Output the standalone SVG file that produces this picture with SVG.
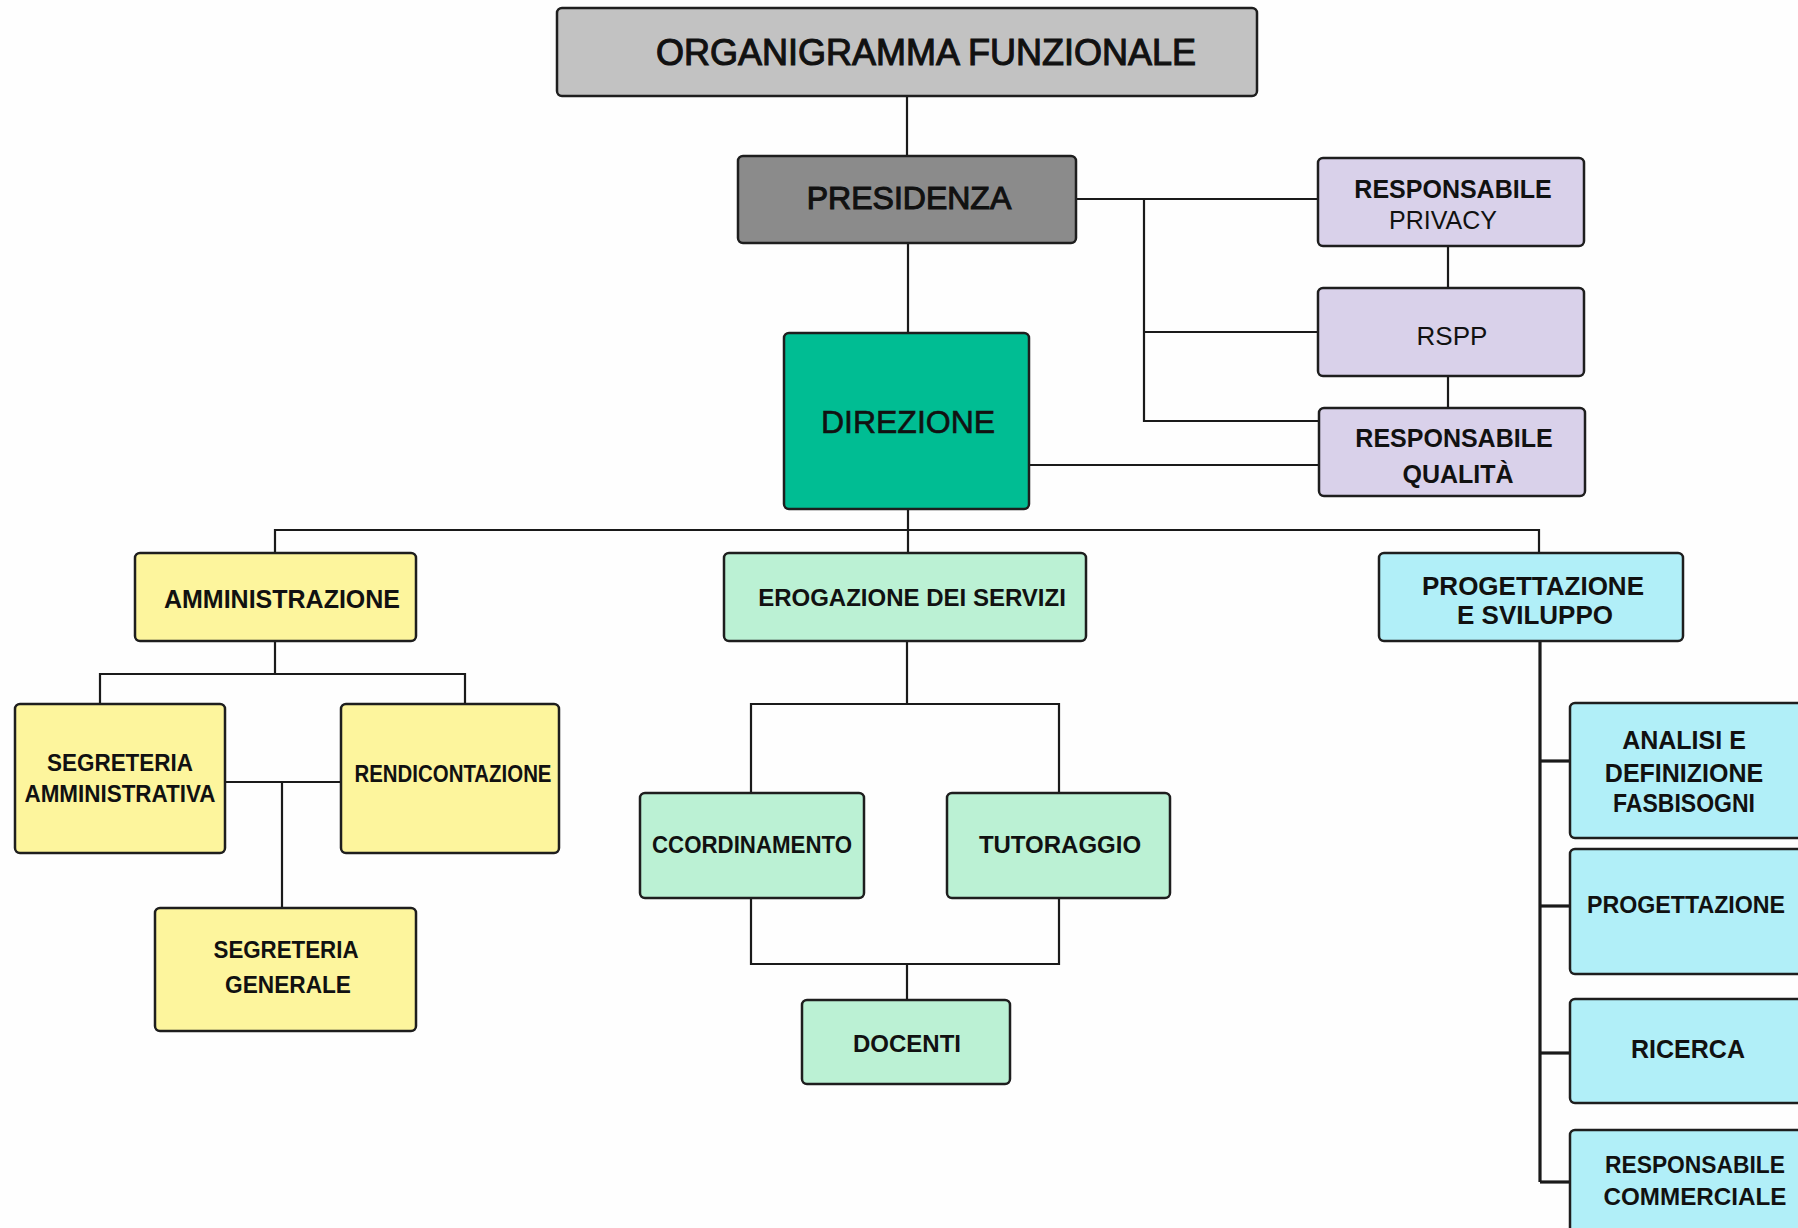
<svg xmlns="http://www.w3.org/2000/svg" width="1798" height="1228" viewBox="0 0 1798 1228">
<style>
.box{stroke:#1e1e1e;stroke-width:2.5}
.gray1{fill:#c2c2c2}
.gray2{fill:#8b8b8b}
.lav{fill:#d9d1ea}
.dir{fill:#00bd93}
.yel{fill:#fdf59d}
.mint{fill:#bbf1d4}
.cyan{fill:#b1eff8}
.t{font-family:"Liberation Sans",Arial,sans-serif;fill:#111;text-anchor:middle}
.b{font-weight:bold}
.ln{fill:none;stroke:#1a1a1a;stroke-width:2.2}
.lnb{fill:none;stroke:#1a1a1a;stroke-width:3.2}
</style>
<rect width="1798" height="1228" fill="#fefefe"/>
<g id="connectors">
<path class="ln" d="M907 96V156"/>
<path class="ln" d="M908 243V333"/>
<path class="ln" d="M1076 199H1318"/>
<path class="ln" d="M1144 199V421H1319"/>
<path class="ln" d="M1144 332H1318"/>
<path class="ln" d="M1448 246V288"/>
<path class="ln" d="M1448 376V408"/>
<path class="ln" d="M1029 465H1319"/>
<path class="ln" d="M908 509V553"/>
<path class="ln" d="M275 553V530H1539V553"/>
<path class="ln" d="M275 641V674"/>
<path class="ln" d="M100 704V674H465V704"/>
<path class="ln" d="M225 782H341"/>
<path class="ln" d="M282 782V908"/>
<path class="ln" d="M907 641V704"/>
<path class="ln" d="M751 793V704H1059V793"/>
<path class="ln" d="M751 898V964H1059V898"/>
<path class="ln" d="M907 964V1000"/>
<path class="lnb" d="M1540 641V1182"/>
<path class="lnb" d="M1540 761H1570"/>
<path class="lnb" d="M1540 906H1570"/>
<path class="lnb" d="M1540 1053H1570"/>
<path class="lnb" d="M1540 1182H1570"/>
</g>
<g id="titolo">
<rect class="box gray1" x="557" y="8" width="700" height="88" rx="5"/>
<text class="t" x="926" y="65" font-size="36" stroke="#111" stroke-width="1.1">ORGANIGRAMMA FUNZIONALE</text>
</g>
<g id="presidenza">
<rect class="box gray2" x="738" y="156" width="338" height="87" rx="5"/>
<text class="t" x="909" y="209" font-size="32" stroke="#111" stroke-width="1.1">PRESIDENZA</text>
</g>
<g id="resp-privacy">
<rect class="box lav" x="1318" y="158" width="266" height="88" rx="5"/>
<text class="t b" x="1453" y="198" font-size="25">RESPONSABILE</text>
<text class="t" x="1443" y="229" font-size="25">PRIVACY</text>
</g>
<g id="rspp">
<rect class="box lav" x="1318" y="288" width="266" height="88" rx="5"/>
<text class="t" x="1452" y="345" font-size="26">RSPP</text>
</g>
<g id="resp-qualita">
<rect class="box lav" x="1319" y="408" width="266" height="88" rx="5"/>
<text class="t b" x="1454" y="447" font-size="25">RESPONSABILE</text>
<text class="t b" x="1458" y="483" font-size="25">QUALITÀ</text>
</g>
<g id="direzione">
<rect class="box dir" x="784" y="333" width="245" height="176" rx="5"/>
<text class="t" x="908" y="433" font-size="32" stroke="#111" stroke-width="0.6">DIREZIONE</text>
</g>
<g id="amministrazione">
<rect class="box yel" x="135" y="553" width="281" height="88" rx="5"/>
<text class="t b" x="282" y="608" font-size="25">AMMINISTRAZIONE</text>
</g>
<g id="segreteria-amministrativa">
<rect class="box yel" x="15" y="704" width="210" height="149" rx="5"/>
<text class="t b" x="120" y="771" font-size="24" textLength="146" lengthAdjust="spacingAndGlyphs">SEGRETERIA</text>
<text class="t b" x="120" y="802" font-size="24" textLength="191" lengthAdjust="spacingAndGlyphs">AMMINISTRATIVA</text>
</g>
<g id="rendicontazione">
<rect class="box yel" x="341" y="704" width="218" height="149" rx="5"/>
<text class="t b" x="453" y="782" font-size="24" textLength="197" lengthAdjust="spacingAndGlyphs">RENDICONTAZIONE</text>
</g>
<g id="segreteria-generale">
<rect class="box yel" x="155" y="908" width="261" height="123" rx="5"/>
<text class="t b" x="286" y="958" font-size="24" textLength="145" lengthAdjust="spacingAndGlyphs">SEGRETERIA</text>
<text class="t b" x="288" y="993" font-size="24" textLength="126" lengthAdjust="spacingAndGlyphs">GENERALE</text>
</g>
<g id="erogazione">
<rect class="box mint" x="724" y="553" width="362" height="88" rx="5"/>
<text class="t b" x="912" y="606" font-size="24">EROGAZIONE DEI SERVIZI</text>
</g>
<g id="coordinamento">
<rect class="box mint" x="640" y="793" width="224" height="105" rx="5"/>
<text class="t b" x="752" y="853" font-size="24" textLength="200" lengthAdjust="spacingAndGlyphs">CCORDINAMENTO</text>
</g>
<g id="tutoraggio">
<rect class="box mint" x="947" y="793" width="223" height="105" rx="5"/>
<text class="t b" x="1060" y="853" font-size="24">TUTORAGGIO</text>
</g>
<g id="docenti">
<rect class="box mint" x="802" y="1000" width="208" height="84" rx="5"/>
<text class="t b" x="907" y="1052" font-size="24">DOCENTI</text>
</g>
<g id="progettazione-sviluppo">
<rect class="box cyan" x="1379" y="553" width="304" height="88" rx="5"/>
<text class="t b" x="1533" y="595" font-size="26">PROGETTAZIONE</text>
<text class="t b" x="1535" y="624" font-size="26">E SVILUPPO</text>
</g>
<g id="analisi">
<rect class="box cyan" x="1570" y="703" width="250" height="135" rx="5"/>
<text class="t b" x="1684" y="749" font-size="25">ANALISI E</text>
<text class="t b" x="1684" y="782" font-size="25">DEFINIZIONE</text>
<text class="t b" x="1684" y="812" font-size="25" textLength="142" lengthAdjust="spacingAndGlyphs">FASBISOGNI</text>
</g>
<g id="progettazione">
<rect class="box cyan" x="1570" y="849" width="250" height="125" rx="5"/>
<text class="t b" x="1686" y="913" font-size="24" textLength="198" lengthAdjust="spacingAndGlyphs">PROGETTAZIONE</text>
</g>
<g id="ricerca">
<rect class="box cyan" x="1570" y="999" width="250" height="104" rx="5"/>
<text class="t b" x="1688" y="1058" font-size="25">RICERCA</text>
</g>
<g id="responsabile-commerciale">
<rect class="box cyan" x="1570" y="1130" width="250" height="120" rx="5"/>
<text class="t b" x="1695" y="1173" font-size="24" textLength="180" lengthAdjust="spacingAndGlyphs">RESPONSABILE</text>
<text class="t b" x="1695" y="1205" font-size="24" textLength="183" lengthAdjust="spacingAndGlyphs">COMMERCIALE</text>
</g>
</svg>
